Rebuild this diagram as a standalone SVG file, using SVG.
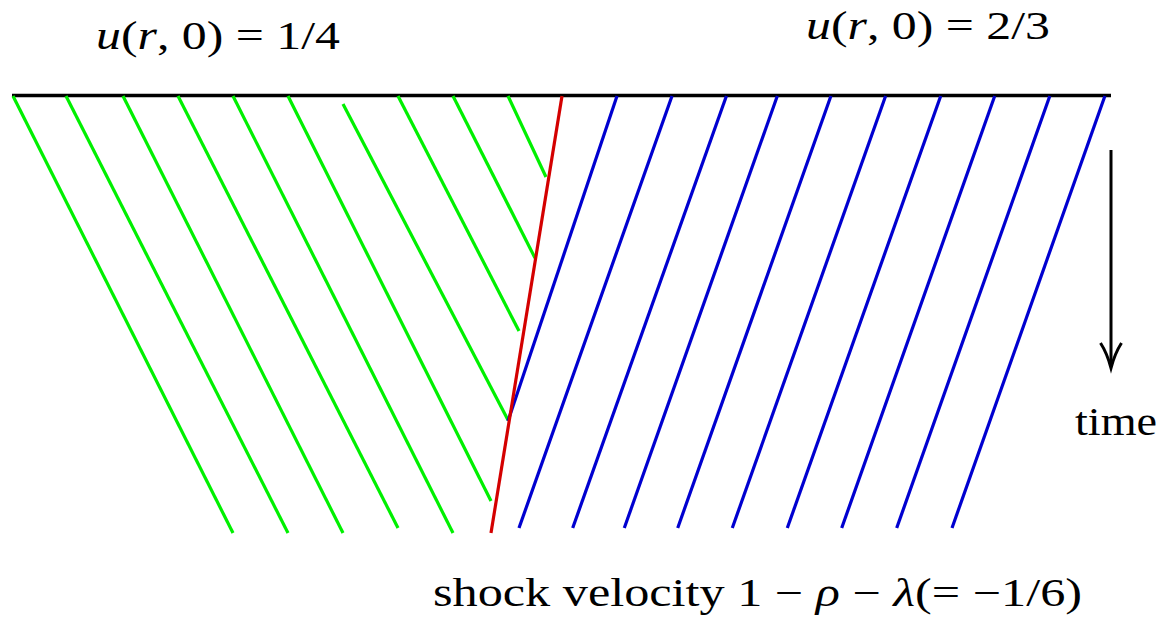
<svg xmlns="http://www.w3.org/2000/svg" width="1164" height="617" viewBox="0 0 1164 617">
<style>
.g{stroke:#00f000;stroke-width:3.2;fill:none}
.b{stroke:#0000d0;stroke-width:3.2;fill:none}
.r{stroke:#d40000;stroke-width:3.2;fill:none}
.k{stroke:#000;stroke-width:3.4;fill:none}
.t{font-family:"Liberation Serif","Times New Roman",serif;font-size:40px;fill:#000}
.i{font-style:italic}
</style>
<rect width="1164" height="617" fill="#fff"/>
<g id="axis">
<line class="k" x1="12" y1="95.5" x2="1111" y2="95.5"/>
</g>
<g id="connectors">
<g id="green">
<line class="g" x1="13" y1="96" x2="233" y2="533"/>
<line class="g" x1="66" y1="96" x2="288" y2="533"/>
<line class="g" x1="123" y1="96" x2="343" y2="533"/>
<line class="g" x1="178" y1="96" x2="398" y2="528"/>
<line class="g" x1="233" y1="96" x2="453" y2="533"/>
<line class="g" x1="288" y1="96" x2="491" y2="501"/>
<line class="g" x1="343" y1="104" x2="508" y2="420"/>
<line class="g" x1="398" y1="96" x2="519" y2="331"/>
<line class="g" x1="453" y1="96" x2="535" y2="258"/>
<line class="g" x1="508" y1="96" x2="546" y2="177"/>
</g>
<g id="blue">
<line class="b" x1="617" y1="96" x2="508" y2="421"/>
<line class="b" x1="672" y1="96" x2="519" y2="528"/>
<line class="b" x1="726.4" y1="96" x2="572.7" y2="528"/>
<line class="b" x1="777.3" y1="96" x2="624.3" y2="528"/>
<line class="b" x1="830.9" y1="96" x2="677.7" y2="528"/>
<line class="b" x1="885.6" y1="96" x2="732.3" y2="528"/>
<line class="b" x1="940.7" y1="96" x2="787.3" y2="528"/>
<line class="b" x1="994.7" y1="96" x2="841.7" y2="528"/>
<line class="b" x1="1049.8" y1="96" x2="896.7" y2="528"/>
<line class="b" x1="1104.9" y1="96" x2="952" y2="528"/>
</g>
<g id="shock">
<line class="r" x1="562" y1="96" x2="491" y2="533"/>
</g>
<g id="time-arrow">
<line x1="1111" y1="150" x2="1111" y2="367" stroke="#000" stroke-width="3"/>
<path d="M1100.5,343 Q1107,353 1111,368 Q1115,353 1121.5,343" fill="none" stroke="#000" stroke-width="3"/>
</g>
</g>
<g id="label-left">
<text class="t" x="96" y="49" textLength="244" lengthAdjust="spacingAndGlyphs"><tspan class="i">u</tspan>(<tspan class="i">r</tspan>, 0) = 1/4</text>
</g>
<g id="label-right">
<text class="t" x="806" y="39" textLength="244" lengthAdjust="spacingAndGlyphs"><tspan class="i">u</tspan>(<tspan class="i">r</tspan>, 0) = 2/3</text>
</g>
<g id="label-time">
<text class="t" x="1075" y="435" textLength="82" lengthAdjust="spacingAndGlyphs">time</text>
</g>
<g id="label-shock">
<text class="t" x="433" y="606" textLength="649" lengthAdjust="spacingAndGlyphs">shock velocity 1 − <tspan class="i">ρ</tspan> − <tspan class="i">λ</tspan>(= −1/6)</text>
</g>
</svg>
